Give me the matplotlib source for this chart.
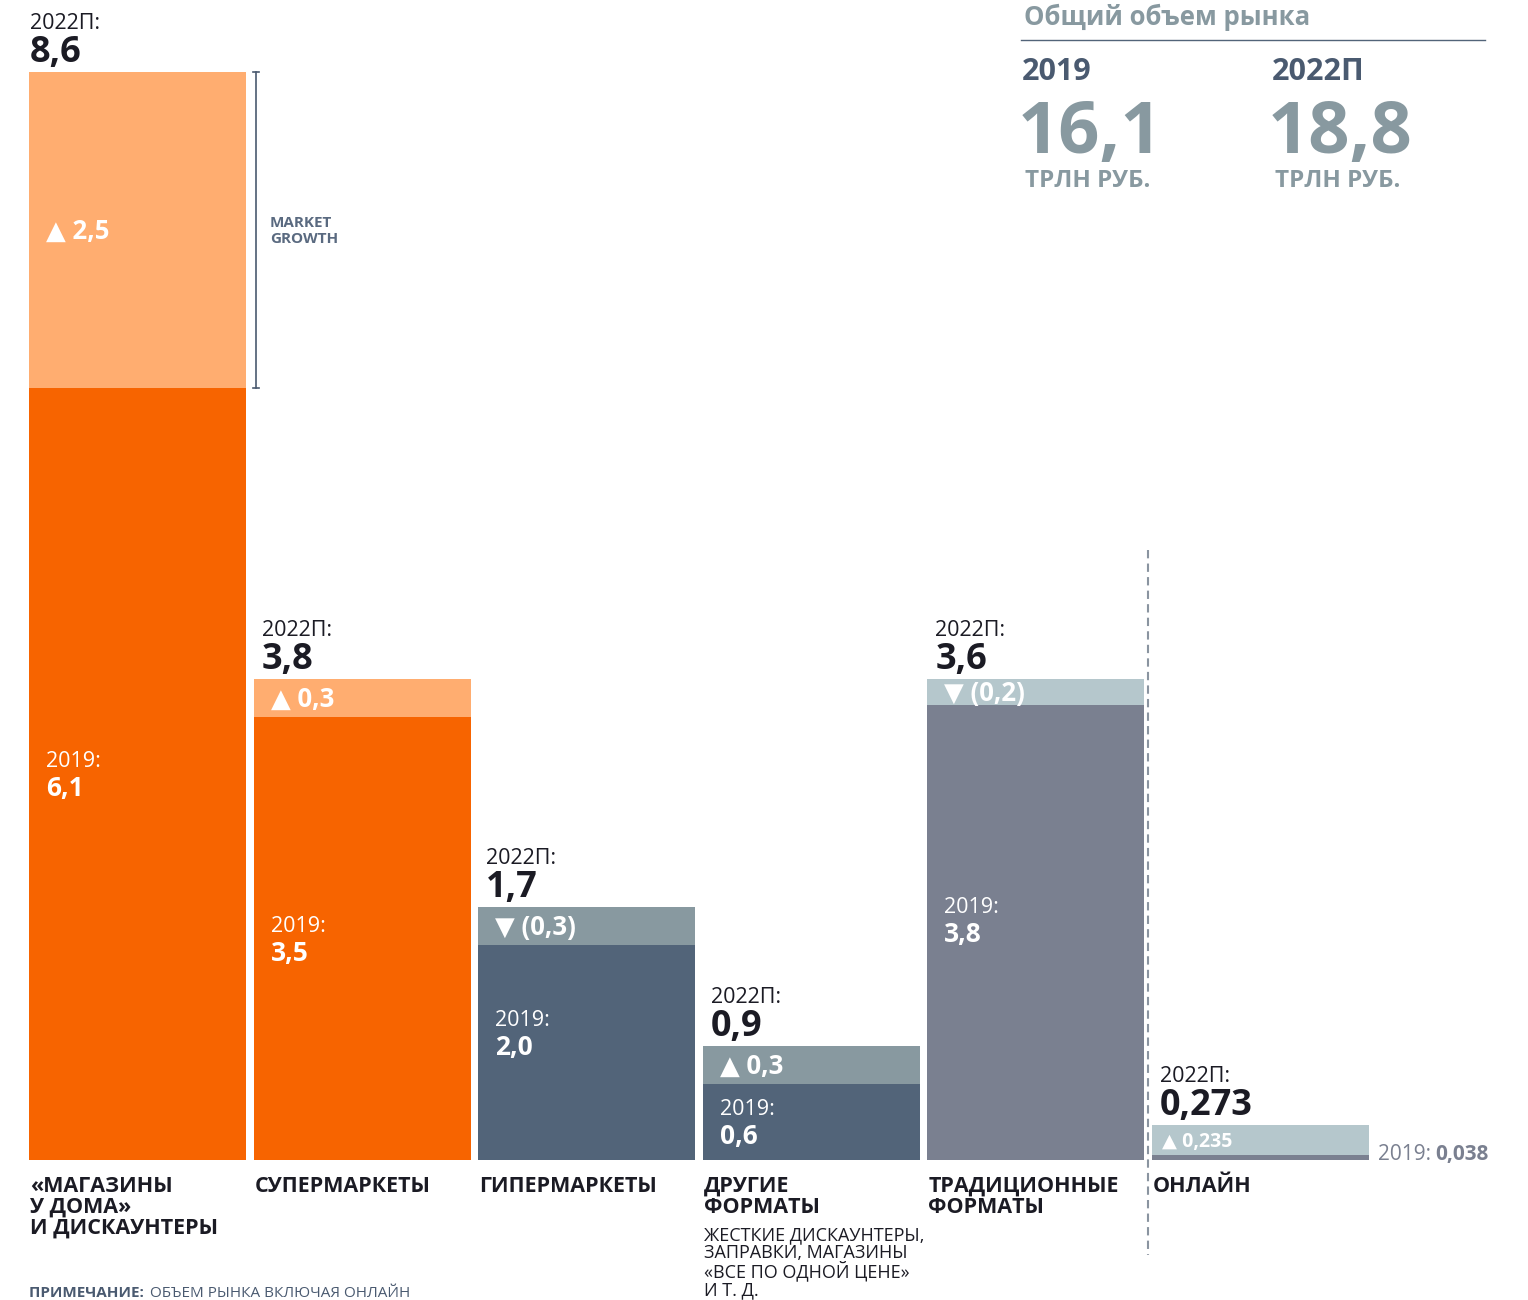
import matplotlib
matplotlib.use('Agg')
import matplotlib.pyplot as plt

plt.rcParams['font.family'] = ['Open Sans', 'DejaVu Sans']

# данные, трлн руб.
categories = [['«МАГАЗИНЫ', 'У ДОМА»', 'И ДИСКАУНТЕРЫ'], ['СУПЕРМАРКЕТЫ'], ['ГИПЕРМАРКЕТЫ'],
              ['ДРУГИЕ', 'ФОРМАТЫ'], ['ТРАДИЦИОННЫЕ', 'ФОРМАТЫ'], ['ОНЛАЙН']]
v2019 = [6.1, 3.5, 2.0, 0.6, 3.8, 0.038]
v2022 = [8.6, 3.8, 1.7, 0.9, 3.6, 0.273]
lab2019 = ['6,1', '3,5', '2,0', '0,6', '3,8', '0,038']
lab2022 = ['8,6', '3,8', '1,7', '0,9', '3,6', '0,273']
labdelta = ['2,5', '0,3', '(0,3)', '0,3', '(0,2)', '0,235']
sub_note = ['ЖЕСТКИЕ ДИСКАУНТЕРЫ,', 'ЗАПРАВКИ, МАГАЗИНЫ', '«ВСЕ ПО ОДНОЙ ЦЕНЕ»', 'И Т. Д.']
total_years = ['2019', '2022П']
total_values = ['16,1', '18,8']

base_colors = ['#f76400', '#f76400', '#526479', '#526479', '#7a8090', '#7a8090']
delta_colors = ['#ffad70', '#ffad70', '#8899a0', '#8899a0', '#b5c7cc', '#b5c7cc']
dark = '#1b1b24'

W, H = 1528, 1300
fig = plt.figure(figsize=(W / 100, H / 100), dpi=100)
ax = fig.add_axes([0, 140 / H, 1, 1160 / H])
ppu = 126.5   # пикселей на трлн
step = 224.6
ax.set_ylim(0, 1160 / ppu)
ax.set_xlim(-137.5 / step, (W - 137.5) / step)
ax.axis('off')
width = 217 / step


def label(x, y, s, dx, dy, **kw):
    kw.setdefault('va', 'baseline')
    kw.setdefault('ha', 'left')
    return ax.annotate(s, xy=(x, y), xytext=(dx, dy), textcoords='offset pixels',
                       annotation_clip=False, **kw)


for i in range(len(v2019)):
    a, b = v2019[i], v2022[i]
    lo, hi = min(a, b), max(a, b)
    ax.bar(i, lo, width=width, color=base_colors[i], linewidth=0)
    ax.bar(i, hi - lo, bottom=lo, width=width, color=delta_colors[i], linewidth=0)
    left = i - width / 2

    tx = 1 if i == 0 else 8
    label(left, hi, '2022П:', tx, 43, fontsize=15.5, color=dark)
    label(left, hi, lab2022[i], tx, 10, fontsize=26, fontweight='bold', color=dark)

    arrow = '▲ ' if b > a else '▼ '
    if i == 5:
        label(left, (lo + hi) / 2, arrow + labdelta[i], 10, -7, fontsize=14,
              fontweight='bold', color='white')
        label(i + width / 2, 0, '2019:', 9, 0, fontsize=15, color='#7a8090')
        label(i + width / 2, 0, lab2019[i], 66, 0, fontsize=15, fontweight='bold', color='#7a8090')
    else:
        label(left, (lo + hi) / 2, arrow + labdelta[i], 17, -9, fontsize=18.5,
              fontweight='bold', color='white')
        label(left, a / 2, '2019:', 17, 7, fontsize=15.5, color='white')
        label(left, a / 2, lab2019[i], 17, -22, fontsize=19, fontweight='bold', color='white')

    for k, line in enumerate(categories[i]):
        label(left, 0, line, 1, -32 - 21 * k, fontsize=15.5, fontweight='bold', color=dark)

for k, line in enumerate(sub_note):
    label(3 - width / 2, 0, line, 1, -80 - 18.5 * k, fontsize=13, color=dark)

# market growth
xb = width / 2 + 10 / step
cap = 3 / step
ax.plot([xb, xb], [v2019[0], v2022[0]], color='#4a5a70', lw=1.2)
for yy in (v2019[0], v2022[0]):
    ax.plot([xb - cap, xb + cap], [yy, yy], color='#4a5a70', lw=1.2)
mid = (v2019[0] + v2022[0]) / 2
label(width / 2, mid, 'MARKET', 24, 3, fontsize=11, fontweight='bold', color='#5a6a80')
label(width / 2, mid, 'GROWTH', 24, -13, fontsize=11, fontweight='bold', color='#5a6a80')

# разделитель онлайн
ax.plot([4.5, 4.5], [4.82, -0.75], color='#8a94a0', lw=1.5, linestyle=(0, (4, 2.5)),
        clip_on=False)


def ftext(x, y, s, **kw):
    kw.setdefault('va', 'baseline')
    return fig.text(x / W, 1 - y / H, s, **kw)


# общий объем рынка
ftext(1024, 25, 'Общий объем рынка', fontsize=18.5, fontweight='bold', color='#8899a0')
fig.add_artist(plt.Line2D([1021 / W, 1485 / W], [1 - 40 / H, 1 - 40 / H], color='#526479', lw=1))
for x0, yr, val in zip([1018, 1268], total_years, total_values):
    ftext(x0 + 4, 80, yr, fontsize=22, fontweight='bold', color='#4a5a70')
    ftext(x0, 153, val, fontsize=52, fontweight='bold', color='#8899a0')
    ftext(x0 + 7, 187, 'ТРЛН РУБ.', fontsize=17.5, fontweight='bold', color='#8899a0')

# примечание
t = ftext(29, 1297, 'ПРИМЕЧАНИЕ: ', fontsize=11, fontweight='bold', color='#4a5a70')
fig.canvas.draw()
bb = t.get_window_extent()
ftext(bb.x1 + 2, 1297, 'ОБЪЕМ РЫНКА ВКЛЮЧАЯ ОНЛАЙН', fontsize=11, color='#4a5a70')

fig.savefig('out.png', dpi=100)
